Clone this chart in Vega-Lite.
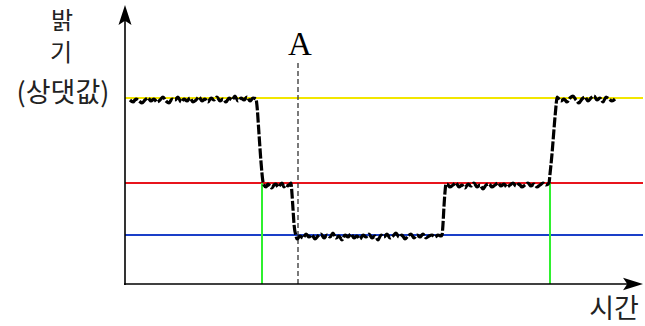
{
  "$schema": "https://vega.github.io/schema/vega-lite/v6.json",
  "autosize": {"type": "fit", "contains": "padding"},
  "width": 645,
  "height": 326,
  "padding": 0,
  "background": "white",
  "config": {"view": {"stroke": null}},
  "datasets": {
    "curve": [
      {"t":5,"b":184},{"t":8,"b":182},{"t":11,"b":185},{"t":14,"b":183},{"t":17,"b":181},{"t":20,"b":184},{"t":23,"b":186},{"t":26,"b":183},{"t":29,"b":185},{"t":32,"b":182},{"t":35,"b":184},{"t":38,"b":187},{"t":41,"b":183},{"t":44,"b":181},{"t":47,"b":185},{"t":50,"b":184},{"t":53,"b":187},{"t":56,"b":182},{"t":59,"b":185},{"t":62,"b":183},{"t":65,"b":186},{"t":68,"b":182},{"t":71,"b":184},{"t":74,"b":187},{"t":77,"b":183},{"t":80,"b":185},{"t":83,"b":182},{"t":86,"b":186},{"t":89,"b":184},{"t":92,"b":187},{"t":95,"b":183},{"t":98,"b":185},{"t":101,"b":182},{"t":104,"b":186},{"t":107,"b":184},{"t":110,"b":188},{"t":113,"b":183},{"t":116,"b":186},{"t":119,"b":184},{"t":122,"b":187},{"t":125,"b":183},{"t":128,"b":186},{"t":131,"b":185},
      {"t":132,"b":178},{"t":134,"b":150},{"t":136,"b":122},{"t":138,"b":102},
      {"t":139,"b":99},{"t":141,"b":97},{"t":143,"b":100},{"t":145,"b":98},{"t":147,"b":96},{"t":149,"b":99},{"t":151,"b":100},{"t":153,"b":97},{"t":155,"b":99},{"t":157,"b":101},{"t":159,"b":97},{"t":161,"b":99},{"t":163,"b":98},{"t":165,"b":100},{"t":166,"b":101},
      {"t":167,"b":90},{"t":168,"b":75},{"t":169,"b":60},{"t":171,"b":48},
      {"t":172,"b":45},{"t":175,"b":48},{"t":178,"b":46},{"t":181,"b":50},{"t":184,"b":47},{"t":187,"b":49},{"t":190,"b":45},{"t":193,"b":48},{"t":196,"b":50},{"t":199,"b":46},{"t":202,"b":49},{"t":205,"b":47},{"t":208,"b":51},{"t":211,"b":46},{"t":214,"b":48},{"t":217,"b":44},{"t":220,"b":49},{"t":223,"b":47},{"t":226,"b":50},{"t":229,"b":46},{"t":232,"b":48},{"t":235,"b":45},{"t":238,"b":49},{"t":241,"b":47},{"t":244,"b":50},{"t":247,"b":46},{"t":250,"b":48},{"t":253,"b":44},{"t":256,"b":49},{"t":259,"b":47},{"t":262,"b":50},{"t":265,"b":46},{"t":268,"b":48},{"t":271,"b":51},{"t":274,"b":47},{"t":277,"b":49},{"t":280,"b":45},{"t":283,"b":48},{"t":286,"b":50},{"t":289,"b":46},{"t":292,"b":49},{"t":295,"b":47},{"t":298,"b":50},{"t":301,"b":46},{"t":304,"b":48},{"t":307,"b":49},{"t":310,"b":47},{"t":313,"b":49},{"t":316,"b":48},{"t":317,"b":49},
      {"t":318,"b":60},{"t":319,"b":78},{"t":320,"b":92},{"t":321,"b":100},
      {"t":322,"b":100},{"t":325,"b":97},{"t":328,"b":99},{"t":331,"b":101},{"t":334,"b":97},{"t":337,"b":99},{"t":340,"b":96},{"t":343,"b":100},{"t":346,"b":98},{"t":349,"b":101},{"t":352,"b":97},{"t":355,"b":99},{"t":358,"b":95},{"t":361,"b":99},{"t":364,"b":100},{"t":367,"b":97},{"t":370,"b":99},{"t":373,"b":101},{"t":376,"b":98},{"t":379,"b":100},{"t":382,"b":97},{"t":385,"b":99},{"t":388,"b":101},{"t":391,"b":98},{"t":394,"b":100},{"t":397,"b":97},{"t":400,"b":99},{"t":403,"b":101},{"t":406,"b":98},{"t":409,"b":100},{"t":412,"b":97},{"t":415,"b":99},{"t":418,"b":101},{"t":421,"b":99},{"t":424,"b":101},
      {"t":425,"b":110},{"t":427,"b":130},{"t":429,"b":155},{"t":431,"b":178},{"t":432,"b":187},
      {"t":433,"b":186},{"t":436,"b":183},{"t":439,"b":185},{"t":442,"b":182},{"t":445,"b":186},{"t":448,"b":188},{"t":451,"b":184},{"t":454,"b":181},{"t":457,"b":185},{"t":460,"b":187},{"t":463,"b":183},{"t":466,"b":186},{"t":469,"b":188},{"t":472,"b":184},{"t":475,"b":186},{"t":478,"b":182},{"t":481,"b":187},{"t":484,"b":185},{"t":487,"b":183},{"t":490,"b":185}
    ],
    "levels": [
      {"level":"max","b":186},
      {"level":"mid","b":101},
      {"level":"min","b":49}
    ],
    "contacts": [{"t":137},{"t":425}],
    "labels": [
      {"text":"밝","t":-63,"b":262},
      {"text":"기","t":-64,"b":230}
    ]
  },
  "layer": [
    {
      "data": {"name": "levels"},
      "mark": {"type": "rule", "strokeWidth": 2},
      "encoding": {
        "x": {"datum": 0, "type": "quantitative", "scale": {"domain": [-125, 520], "nice": false, "zero": false}, "axis": null},
        "x2": {"datum": 518},
        "y": {"field": "b", "type": "quantitative", "scale": {"domain": [-42, 284], "nice": false, "zero": false}, "axis": null},
        "color": {"field": "level", "type": "nominal", "scale": {"domain": ["max","mid","min"], "range": ["#f2e600","#e8141c","#1a3fc8"]}, "legend": null}
      }
    },
    {
      "data": {"name": "contacts"},
      "mark": {"type": "rule", "strokeWidth": 2, "color": "#2ff02f"},
      "encoding": {
        "x": {"field": "t", "type": "quantitative"},
        "y": {"datum": 0, "type": "quantitative"},
        "y2": {"datum": 101}
      }
    },
    {
      "data": {"values": [{"t": 173}]},
      "mark": {"type": "rule", "strokeWidth": 1.3, "color": "#333333", "strokeDash": [5, 3]},
      "encoding": {
        "x": {"field": "t", "type": "quantitative"},
        "y": {"datum": 0, "type": "quantitative"},
        "y2": {"datum": 222}
      }
    },
    {
      "data": {"values": [{"t": 0}]},
      "mark": {"type": "rule", "strokeWidth": 1.6, "color": "black"},
      "encoding": {
        "x": {"field": "t", "type": "quantitative"},
        "y": {"datum": -1, "type": "quantitative"},
        "y2": {"datum": 264}
      }
    },
    {
      "data": {"values": [{"b": 0}]},
      "mark": {"type": "rule", "strokeWidth": 1.6, "color": "black"},
      "encoding": {
        "y": {"field": "b", "type": "quantitative"},
        "x": {"datum": -1, "type": "quantitative"},
        "x2": {"datum": 505}
      }
    },
    {
      "data": {"values": [{"t": 0, "b": 268.5}]},
      "mark": {"type": "point", "shape": "M0,-1L0.62,0.9L0,0.5L-0.62,0.9Z", "size": 441, "filled": true, "color": "black", "opacity": 1},
      "encoding": {
        "x": {"field": "t", "type": "quantitative"},
        "y": {"field": "b", "type": "quantitative"}
      }
    },
    {
      "data": {"values": [{"t": 507.5, "b": 0}]},
      "mark": {"type": "point", "shape": "M1,0L-0.9,0.6L-0.5,0L-0.9,-0.6Z", "size": 441, "filled": true, "color": "black", "opacity": 1},
      "encoding": {
        "x": {"field": "t", "type": "quantitative"},
        "y": {"field": "b", "type": "quantitative"}
      }
    },
    {
      "data": {"name": "curve"},
      "mark": {"type": "line", "color": "black", "strokeWidth": 3.2, "strokeDash": [10, 2], "interpolate": "monotone"},
      "encoding": {
        "x": {"field": "t", "type": "quantitative"},
        "y": {"field": "b", "type": "quantitative"}
      }
    },
    {
      "data": {"name": "labels"},
      "mark": {"type": "text", "font": "Noto Sans CJK KR", "fontSize": 24, "align": "center", "baseline": "middle", "color": "#222222"},
      "encoding": {
        "x": {"field": "t", "type": "quantitative"},
        "y": {"field": "b", "type": "quantitative"},
        "text": {"field": "text"}
      }
    },
    {
      "data": {"values": [{"text": "(상댓값)", "t": -62, "b": 190}]},
      "mark": {"type": "text", "font": "Noto Sans CJK KR", "fontSize": 27, "align": "center", "baseline": "middle", "color": "#222222"},
      "encoding": {
        "x": {"field": "t", "type": "quantitative"},
        "y": {"field": "b", "type": "quantitative"},
        "text": {"field": "text"}
      }
    },
    {
      "data": {"values": [{"text": "시간", "t": 489, "b": -26}]},
      "mark": {"type": "text", "font": "Noto Sans CJK KR", "fontSize": 27, "align": "center", "baseline": "middle", "color": "#222222"},
      "encoding": {
        "x": {"field": "t", "type": "quantitative"},
        "y": {"field": "b", "type": "quantitative"},
        "text": {"field": "text"}
      }
    },
    {
      "data": {"values": [{"text": "A", "t": 175, "b": 229}]},
      "mark": {"type": "text", "font": "Liberation Serif", "fontSize": 33, "align": "center", "baseline": "alphabetic", "color": "black"},
      "encoding": {
        "x": {"field": "t", "type": "quantitative"},
        "y": {"field": "b", "type": "quantitative"},
        "text": {"field": "text"}
      }
    }
  ]
}
